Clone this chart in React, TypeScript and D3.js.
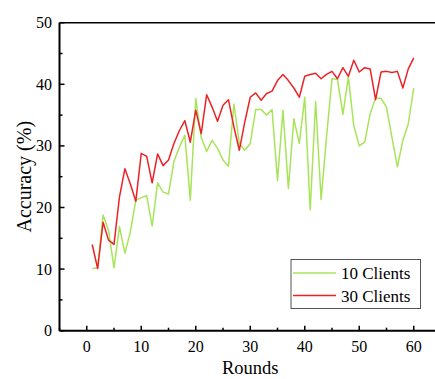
import * as d3 from "d3";

// rounds 1..60
const rounds = d3.range(1, 61);

const clients10 = [
  10.1, 10.2, 18.8, 16.3, 10.2, 16.9, 12.6, 16.0, 21.2, 21.6,
  21.9, 17.0, 24.0, 22.5, 22.2, 27.5, 29.8, 31.7, 21.2, 37.7,
  31.4, 29.1, 30.9, 29.6, 27.7, 26.7, 36.8, 30.4, 29.3, 30.4,
  35.9, 35.9, 35.0, 35.9, 24.4, 35.8, 23.1, 34.4, 30.4, 37.9,
  19.6, 37.2, 21.3, 31.5, 40.9, 40.8, 35.1, 41.2, 33.3, 30.0,
  30.6, 35.2, 37.8, 37.7, 36.3, 31.4, 26.6, 30.9, 33.6, 39.4,
];

const clients30 = [
  14.0, 10.1, 17.6, 14.7, 14.0, 21.7, 26.3, 23.8, 21.0, 28.8,
  28.3, 24.0, 28.7, 26.8, 27.7, 30.4, 32.5, 34.1, 30.6, 35.8,
  32.0, 38.3, 36.3, 34.0, 36.6, 37.5, 33.1, 29.3, 33.9, 37.9,
  38.6, 37.4, 38.5, 38.9, 40.6, 41.6, 40.6, 39.4, 37.9, 41.3,
  41.6, 41.8, 40.9, 41.6, 42.1, 40.9, 42.7, 41.3, 43.9, 42.0,
  42.7, 42.5, 37.5, 42.0, 42.1, 41.9, 42.1, 39.4, 42.5, 44.3,
];

const xTicks = [0, 10, 20, 30, 40, 50, 60];
const yTicks = [0, 10, 20, 30, 40, 50];

const series = [
  { label: "10 Clients", values: clients10, color: "#a8e45a" },
  { label: "30 Clients", values: clients30, color: "#ec2227" },
];

const W = 435;
const H = 379;
const FONT = "'Liberation Serif', 'Times New Roman', serif";

export default function App() {
  const x = d3.scaleLinear().domain([-5, 65]).range([59.5, 441]);
  const y = d3.scaleLinear().domain([0, 50]).range([330.7, 22.7]);

  const line = d3
    .line<number>()
    .x((_, i) => x(rounds[i]))
    .y((d) => y(d));

  const xMinor = d3.range(-5, 65, 5).filter((v) => v % 10 !== 0);
  const yMinor = d3.range(5, 50, 10);

  return (
    <svg
      width={W}
      height={H}
      style={{ position: "absolute", left: 0, top: 0, background: "#fff" }}
      fontFamily={FONT}
    >
      {/* data lines */}
      {series.map((s) => (
        <path
          key={s.label}
          d={line(s.values) ?? ""}
          fill="none"
          stroke={s.color}
          strokeWidth={1.5}
          strokeLinejoin="round"
        />
      ))}

      {/* frame */}
      <line x1={x(-5)} x2={W} y1={y(50)} y2={y(50)} stroke="#000" strokeWidth={1.6} />
      <line x1={x(-5)} x2={x(-5)} y1={y(50)} y2={y(0)} stroke="#000" strokeWidth={2} />
      <line x1={x(-5)} x2={W} y1={y(0)} y2={y(0)} stroke="#000" strokeWidth={2} />

      {/* x ticks */}
      {xTicks.map((t) => (
        <g key={"xt" + t}>
          <line x1={x(t)} x2={x(t)} y1={y(0)} y2={y(0) - 5} stroke="#000" strokeWidth={1.5} />
          <text x={x(t)} y={352} textAnchor="middle" fontSize={16}>
            {t}
          </text>
        </g>
      ))}
      {xMinor.map((t) => (
        <line key={"xm" + t} x1={x(t)} x2={x(t)} y1={y(0)} y2={y(0) - 3} stroke="#000" strokeWidth={1.5} />
      ))}

      {/* y ticks */}
      {yTicks.map((t) => (
        <g key={"yt" + t}>
          <line x1={x(-5)} x2={x(-5) + 5} y1={y(t)} y2={y(t)} stroke="#000" strokeWidth={1.5} />
          <text x={52} y={y(t) + 5.5} textAnchor="end" fontSize={16}>
            {t}
          </text>
        </g>
      ))}
      {yMinor.map((t) => (
        <line key={"ym" + t} x1={x(-5)} x2={x(-5) + 3} y1={y(t)} y2={y(t)} stroke="#000" strokeWidth={1.5} />
      ))}

      {/* axis titles */}
      <text x={x(30)} y={374} textAnchor="middle" fontSize={18.5}>
        Rounds
      </text>
      <text
        transform={`translate(31,${(y(0) + y(50)) / 2}) rotate(-90)`}
        textAnchor="middle"
        fontSize={20}
      >
        Accuracy (%)
      </text>

      {/* legend */}
      <rect x={291} y={259.5} width={129.5} height={49} fill="#fff" stroke="#555" strokeWidth={1} />
      {series.map((s, i) => (
        <g key={"lg" + s.label}>
          <line x1={293} x2={336} y1={273 + i * 22.5} y2={273 + i * 22.5} stroke={s.color} strokeWidth={1.5} />
          <text x={341} y={279 + i * 22.5} fontSize={17}>
            {s.label}
          </text>
        </g>
      ))}
    </svg>
  );
}
